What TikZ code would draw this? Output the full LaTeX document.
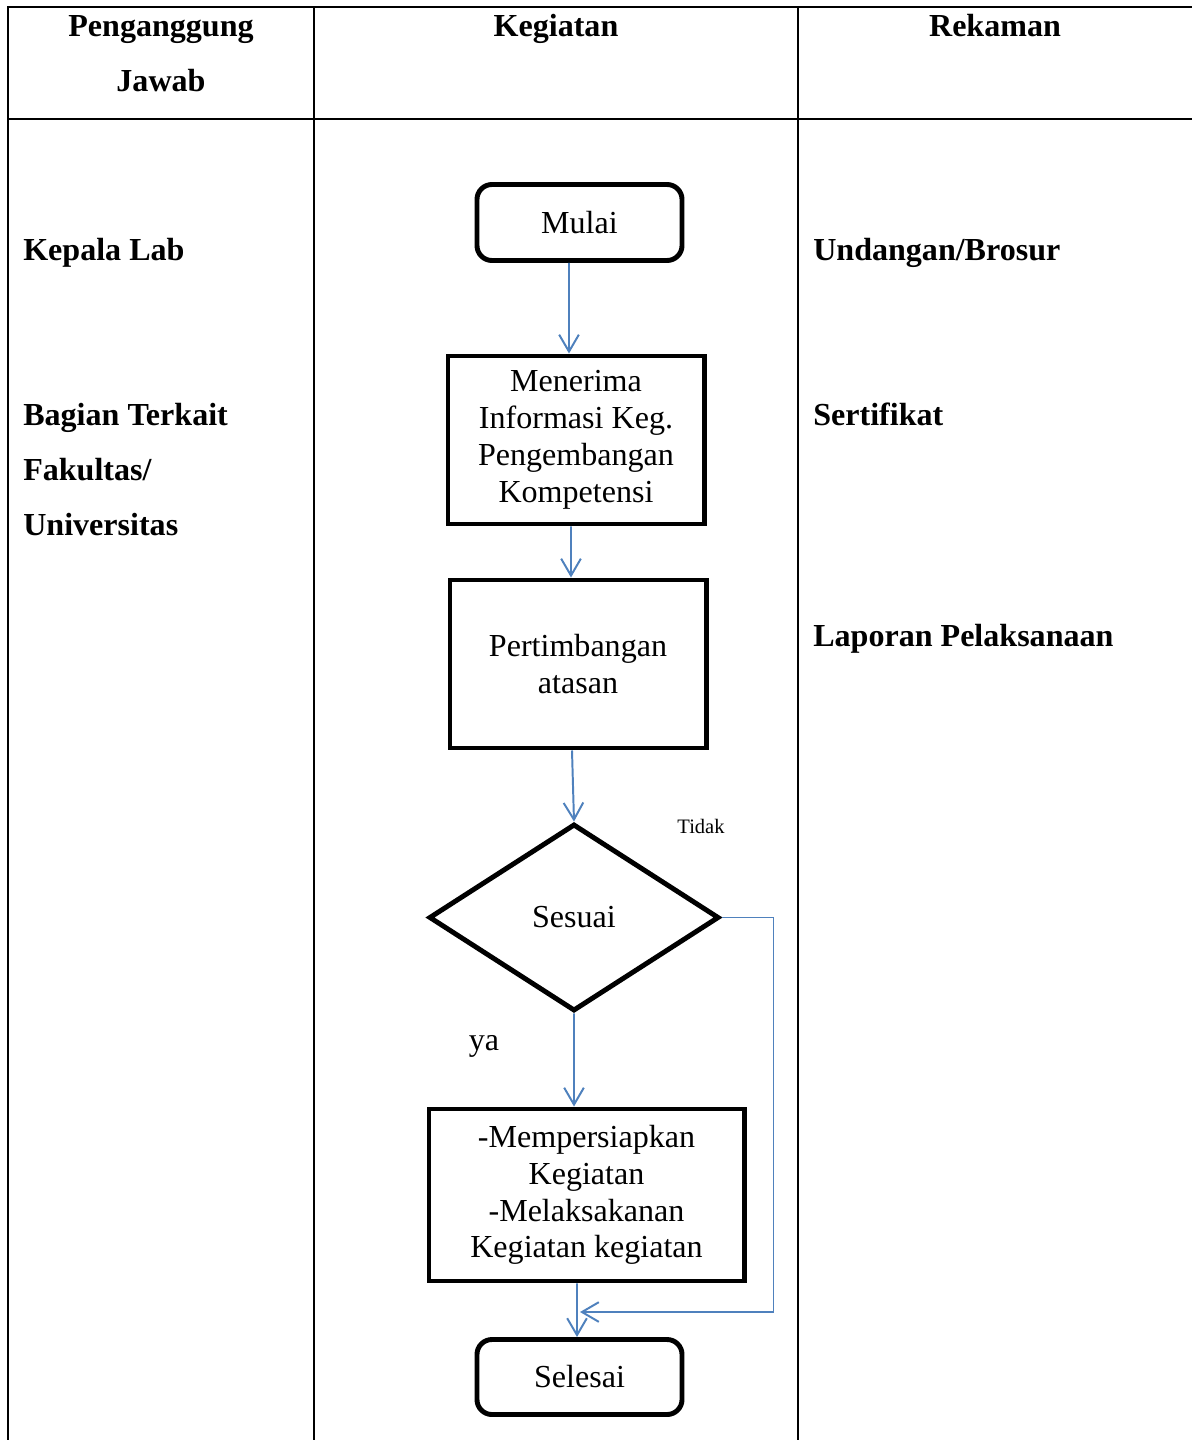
\documentclass[tikz,border=0pt]{standalone}
\usepackage{fontspec}
\setmainfont{Liberation Serif}
\usetikzlibrary{arrows.meta,shapes.geometric}
\definecolor{flowblue}{RGB}{79,129,189}

\begin{document}
\begin{tikzpicture}[x=0.025cm, y=-0.025cm,
        font=\fontsize{22.8}{26.2}\selectfont,
        grid/.style={line width=1.6pt},
        hd/.style={font=\fontsize{22.8}{26.2}\selectfont\bfseries, anchor=base, inner sep=0pt},
        lbl/.style={font=\fontsize{22.8}{26.2}\selectfont\bfseries, anchor=base west, inner sep=0pt},
        term/.style={draw, line width=3.5pt, rounded corners=0.375cm, minimum width=5.125cm, minimum height=1.9cm, inner sep=0pt},
        proc/.style={draw, line width=3.5pt, inner sep=0pt, align=center},
        flow/.style={draw=flowblue, line width=1.4pt, -{Straight Barb[length=12pt,width=14pt]}}]
        \useasboundingbox (0,0) rectangle (1192,1440);

        \draw[grid] (8,1440) -- (8,7) -- (1192,7);
        \draw[grid] (8,119) -- (1192,119);
        \draw[grid] (314,7) -- (314,1440);
        \draw[grid] (798,7) -- (798,1440);

        \node[hd] (pj1) at (161,36) {Penganggung};
        \node[hd] (pj2) at (161,91) {Jawab};
        \node[hd] (keg) at (556,36) {Kegiatan};
        \node[hd] (rek) at (995,36) {Rekaman};

        \node[lbl] (kalab) at (23,260) {Kepala Lab};
        \node[lbl] (bag1) at (23,425) {Bagian Terkait};
        \node[lbl] (bag2) at (23,480) {Fakultas/};
        \node[lbl] (bag3) at (23,535) {Universitas};

        \node[lbl] (undangan) at (813,260) {Undangan/Brosur};
        \node[lbl] (sertifikat) at (813,425) {Sertifikat};
        \node[lbl] (laporan) at (813,646) {Laporan Pelaksanaan};

        \node[term] (mulai) at (579.5,222.5) {Mulai};
        \node[proc, minimum width=6.4cm, minimum height=4.2cm] (info) at (576,440)
            {Menerima\\Informasi Keg.\\Pengembangan\\Kompetensi};
        \node[proc, minimum width=6.4cm, minimum height=4.2cm] (atasan) at (578,664)
            {Pertimbangan\\atasan};
        \node[draw, diamond, line width=3.5pt, inner sep=0pt, minimum width=7.25cm, minimum height=4.675cm] (cek) at (574,917.5) {Sesuai};
        \node[proc, minimum width=7.875cm, minimum height=4.3cm] (siap) at (586.5,1195)
            {-Mempersiapkan\\Kegiatan\\-Melaksakanan\\Kegiatan kegiatan};
        \node[term, minimum height=1.875cm] (selesai) at (579.5,1377) {Selesai};

        \node[font=\fontsize{14.6}{17}\selectfont] (tidak) at (701,826) {Tidak};
        \node (ya) at (484,1046) {ya};

        \draw[flow] ([xshift=-0.2625cm]mulai.south) -- ([xshift=-0.175cm]info.north);
        \draw[flow] ([xshift=-0.125cm]info.south) -- ([xshift=-0.175cm]atasan.north);
        \draw[flow] ([xshift=-0.15cm]atasan.south) -- (cek.north);
        \draw[flow] (cek.south) -- ([xshift=-0.3125cm]siap.north);
        \draw[flow] ([xshift=-0.2375cm]siap.south) -- ([xshift=-0.0625cm]selesai.north);

        \coordinate (balik) at (580,1312);
        \draw[flow] (cek.east) -- ++(52,0) |- (balik);
    \end{tikzpicture}
\end{document}
